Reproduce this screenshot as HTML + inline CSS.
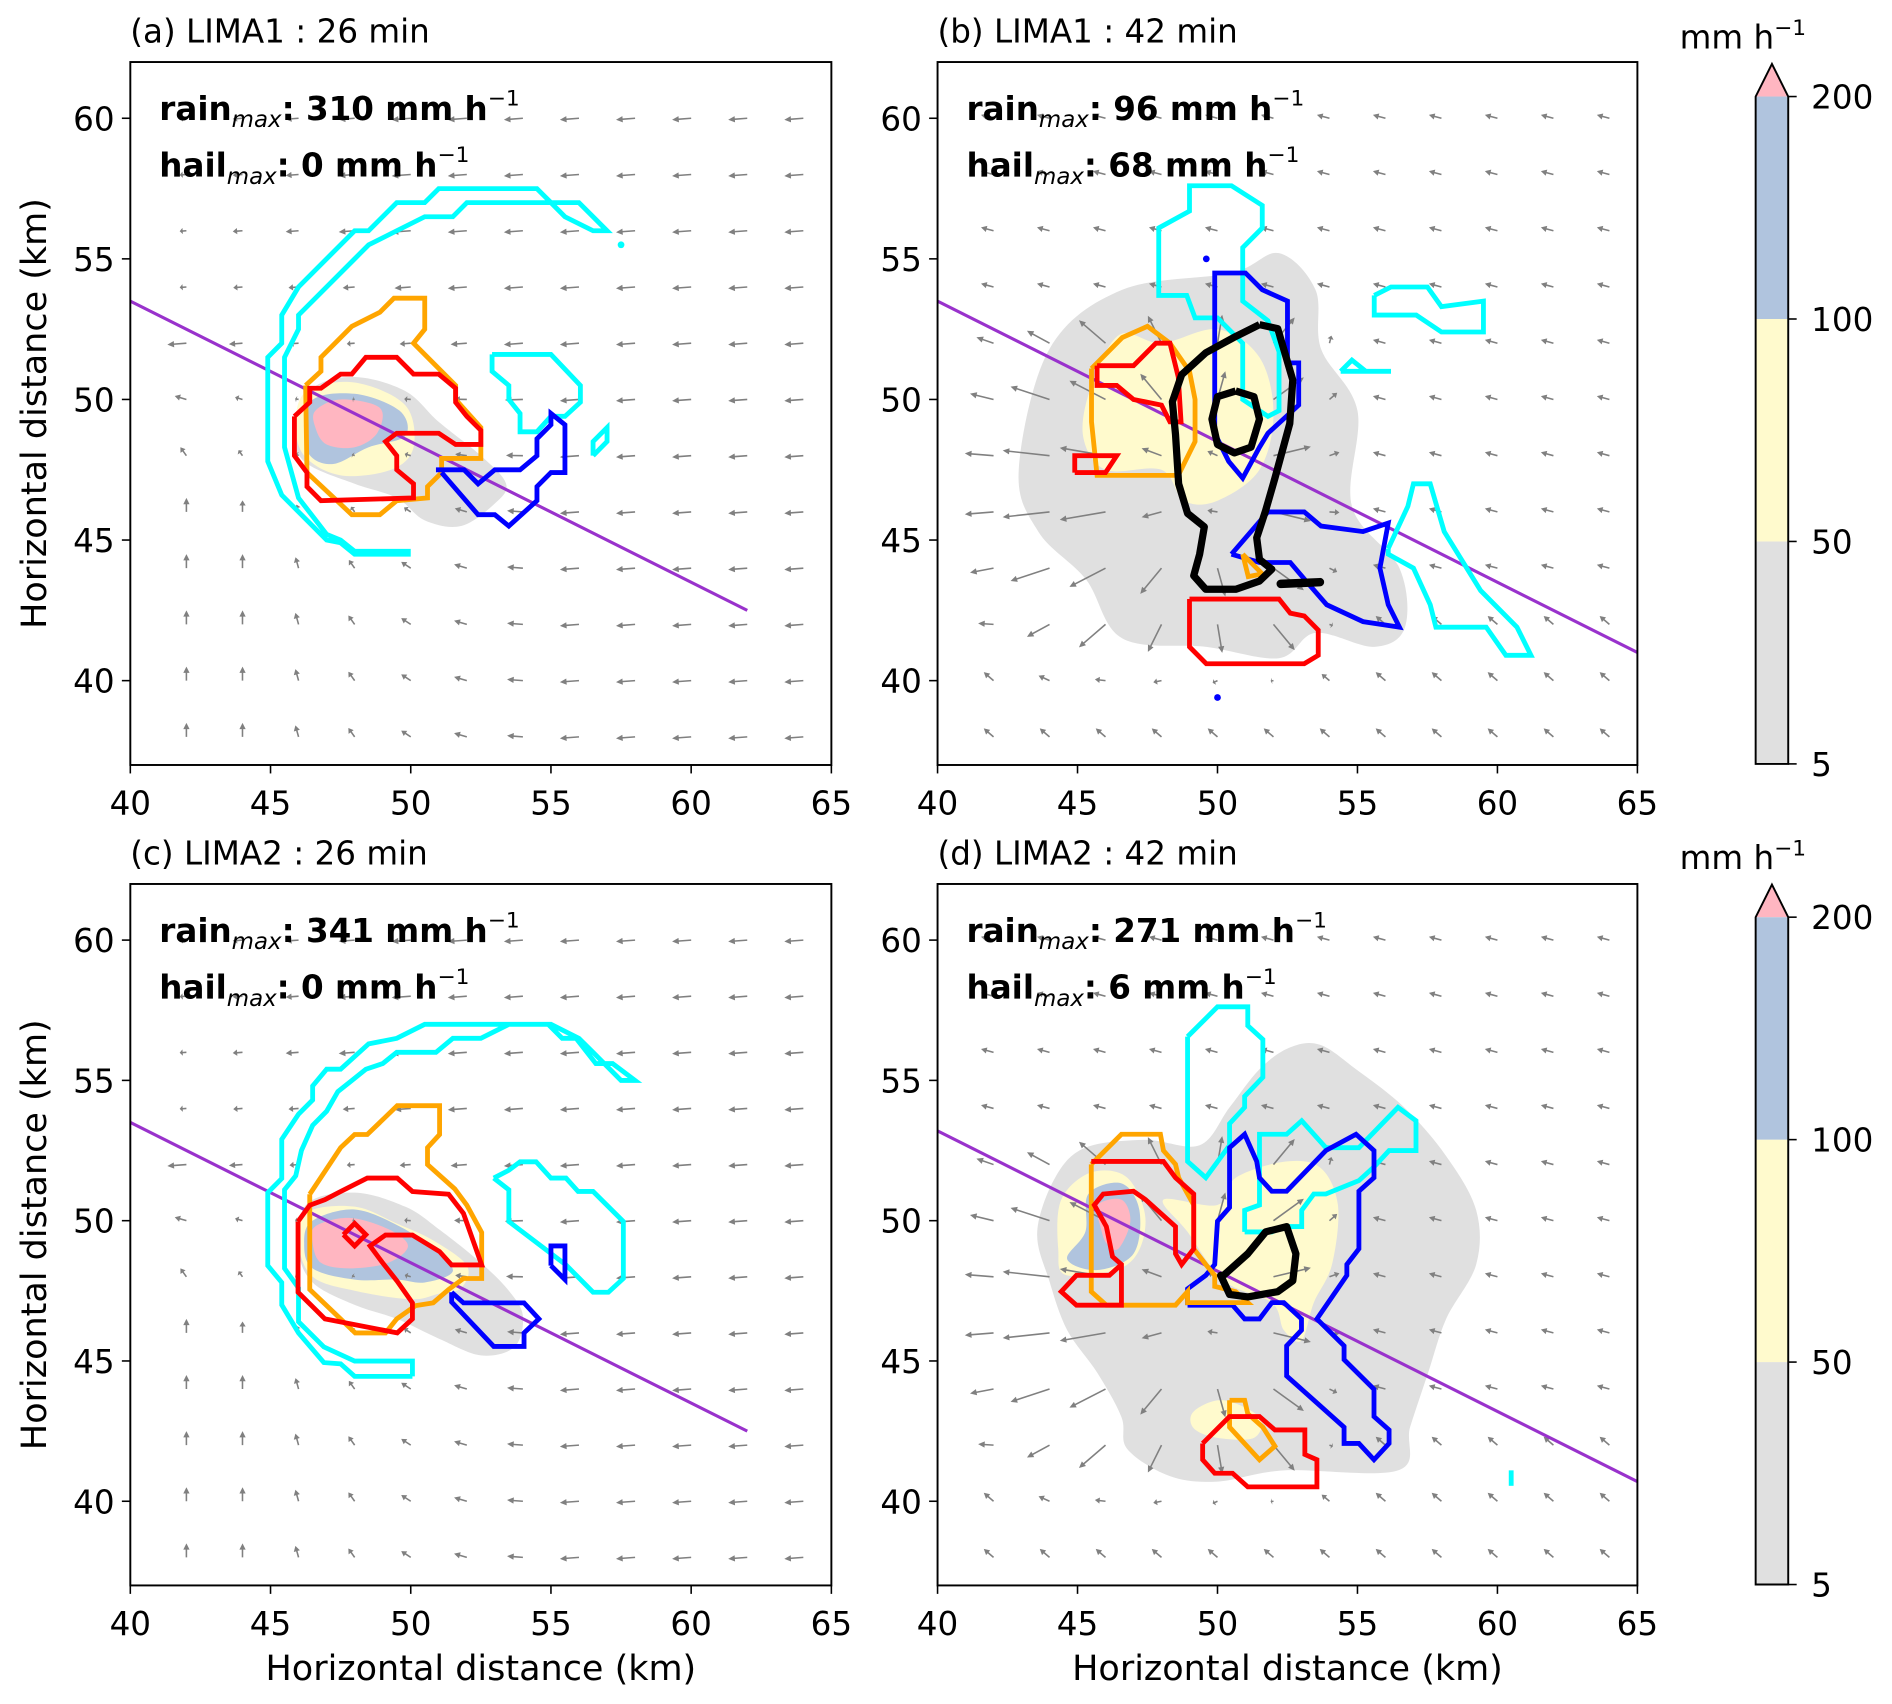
<!DOCTYPE html>
<html><head><meta charset="utf-8"><style>
html,body{margin:0;padding:0;background:#fff;}
svg{display:block;}
text{font-family:"DejaVu Sans","Liberation Sans",sans-serif;fill:#000;}
</style></head><body>
<svg id="fig" xmlns="http://www.w3.org/2000/svg" width="1892" height="1704" viewBox="0 0 1568 1412" preserveAspectRatio="none"></svg>
<script>
// ---- data (km coordinates) ----
const xTicks=[40,45,50,55,60,65];
const yTicks=[40,45,50,55,60];
const cbLevels=[5,50,100,200];
const cbTickLabels=["5","50","100","200"];
const cbColors=["#e0e0e0","#fffacd","#b0c4de","#ffb6c1"];
const panelTitles=["(a) LIMA1 : 26 min","(b) LIMA1 : 42 min","(c) LIMA2 : 26 min","(d) LIMA2 : 42 min"];
const rainMax=[310,96,341,271];
const hailMax=[0,68,0,6];
const gridX=[42,44,46,48,50,52,54,56,58,60,62,64];
const gridY=[38,40,42,44,46,48,50,52,54,56,58,60];
const lineA=[[40,53.5],[62,42.5]];
const lineB=[[40,53.5],[65,41]];
const lineC=[[40,53.5],[62,42.5]];
const lineD=[[40,53.2],[65,40.7]];
// panel a
const aGray=[[46.5,50.4],[48,50.8],[49.8,50.3],[51,49.2],[52.5,48],[53.4,47],[53,46.3],[51.8,45.5],[50.5,45.7],[49.5,46.5],[48,47],[46.2,47.8],[45.8,49]];
const aYellow=[[46.3,50.3],[48,50.6],[49.8,49.8],[50.1,48.3],[49.3,47.5],[47.5,47.3],[46.2,48],[45.9,49.2]];
const aBlue=[[46.4,49.9],[48,50.2],[49.6,49.6],[49.8,48.7],[48.5,48.3],[47.2,47.7],[46.3,48.2]];
const aPink=[[46.6,49.6],[47.5,50],[48.9,49.7],[48.8,48.8],[48,48.3],[47,48.4],[46.6,49]];
const aCyan1=[[50,44.5],[48,44.5],[47.5,44.9],[47,45],[45.4,46.6],[44.9,47.8],[44.9,51.5],[45.4,52],[45.4,53],[46,54],[48,56],[48.5,56],[49.5,57],[50.5,57],[51,57.5],[54.5,57.5],[55,57],[56,57],[56.5,56.5],[57,56],[56.5,56],[55.5,56.5],[55,57],[52,57],[51.5,56.5],[50.5,56.5],[49.5,56],[48.5,55.5],[48,55],[46,53],[46,52.5],[45.5,51.5],[45.5,48.3],[46,46.5],[47,45.2],[47.5,45],[48,44.6],[50,44.6]];
const aCyan2=[[52.9,51.6],[55,51.6],[56.05,50.5],[56.05,49.9],[55.5,49.4],[55,49.4],[54.5,48.85],[53.9,48.85],[53.9,49.5],[53.5,50],[53.5,50.5],[52.9,51],[52.9,51.6]];
const aCyan3=[[56.5,48],[56.5,48.5],[57,49],[57,48.5],[56.5,48]];
const aOrange=[[46.25,50.5],[46.8,51],[46.8,51.5],[47.9,52.6],[48.9,53.1],[49.4,53.6],[50.5,53.6],[50.5,52.5],[50.1,52],[51.6,50.5],[51.6,50],[52.5,49],[52.5,47.9],[51.1,47.9],[51.1,47.4],[50.6,46.9],[50.6,46.5],[49.5,46.4],[48.9,45.9],[47.9,45.9],[46.3,47.4],[46.25,50.5]];
const aRed=[[45.85,49.4],[46.4,49.9],[46.4,50.4],[46.8,50.4],[47.5,50.9],[47.9,50.9],[48.4,51.5],[49.5,51.5],[50.1,50.9],[51,50.9],[51.6,50.4],[51.6,49.9],[52,49.4],[52.5,48.9],[52.5,48.4],[51.6,48.4],[51,48.8],[49.5,48.8],[49.1,48.5],[49.5,48],[49.5,47.5],[50.1,47],[50.1,46.5],[46.8,46.4],[46.3,46.9],[46.3,47.4],[45.85,48],[45.85,49.4]];
const aBlueC=[[50.9,47.5],[51.9,47.5],[52.4,47],[53,47.5],[53.9,47.5],[54.5,48],[54.5,48.6],[55,49.1],[55,49.5],[55.5,49.1],[55.5,47.4],[55,47.4],[54.5,46.9],[54.5,46.4],[53.5,45.5],[53,45.9],[52.4,45.9],[51.1,47.4]];
const aDots=[[57.5,55.5]];
// panel b
const bGray=[[42.9,47.5],[44,51.8],[46.6,53.9],[50.5,54.5],[52.2,55.2],[53.5,53.9],[53.7,51.8],[55,49.6],[54.8,46.2],[56.5,44],[56.7,41.9],[55.6,41.2],[53.5,41.7],[52.2,40.8],[49.6,41.2],[46.6,41.5],[45.3,43.6],[43.6,45.3]];
const bYellow=[[45.5,50.5],[46.5,52.3],[48,52],[50,52.5],[51.5,51.5],[52,49.5],[51.5,47.5],[50,46.4],[48.8,46.4],[48,47.5],[46,47.5],[45.2,48.7]];
const bBlack=[[51.5,52.66],[52.15,52.52],[52.69,50.69],[52.58,49.14],[52.05,47.2],[51.72,46.05],[51.4,45.08],[51.5,44.31],[51.94,43.96],[51.5,43.54],[50.65,43.25],[49.58,43.25],[49.15,43.73],[49.36,44.5],[49.53,45.47],[48.93,45.95],[48.61,47],[48.5,48.76],[48.39,49.92],[48.72,50.88],[49.58,51.66],[50.65,52.24],[51.5,52.66]];
const bBlackInner=[[50.65,50.3],[51.3,50.1],[51.5,49.3],[51.2,48.3],[50.6,48.1],[50,48.4],[49.8,49.3],[50,50.1],[50.65,50.3]];
const bBlackTail=[[52.26,43.44],[53.66,43.5]];
const bBlue1=[[49.9,48.8],[49.9,54.5],[51,54.5],[51.6,53.9],[52.5,53.5],[52.5,51.3],[52.9,51.3],[52.9,49.8],[51.8,48.8],[51.5,48.3],[50.9,47.2],[50.4,47.8],[49.9,48.8]];
const bBlue2=[[50.5,44.5],[51.8,46],[53.1,46],[53.7,45.5],[55.2,45.3],[56.1,45.6],[55.8,44],[56.1,42.7],[56.5,41.9],[55.2,42.1],[53.9,42.7],[53.2,43.5],[52.6,44.2],[51.5,44.2],[50.5,44.5]];
const bCyan1=[[47.9,54.8],[47.9,56.1],[49,56.7],[49,57.6],[50.5,57.6],[51.6,56.9],[51.6,56.1],[50.9,55.4],[50.9,53.5],[51.8,52.8],[52.2,51.7],[52.2,49.6],[51.8,49.4],[50.9,50],[50.9,52],[50,52.9],[49.2,52.9],[48.9,53.7],[47.9,53.7],[47.9,54.8]];
const bCyan2=[[55.6,53.7],[56.2,54],[57.5,54],[58,53.3],[59.5,53.5],[59.5,52.4],[58,52.4],[57.1,53],[55.6,53],[55.6,53.7]];
const bCyan3=[[54.4,51],[54.8,51.4],[55.3,51],[56.2,51],[54.4,51]];
const bCyan4=[[56.1,44.7],[56.8,46.2],[57,47],[57.6,47],[58.1,45.3],[59.4,43.2],[60.7,41.9],[61.2,40.9],[60.3,40.9],[59.6,41.9],[57.8,41.9],[57.6,42.7],[57,44],[56.1,44.5],[56.1,44.7]];
const bOrange1=[[45.5,51.1],[46.6,52.2],[47.5,52.6],[48.3,52],[49,51],[49.2,50],[49.2,48.5],[48.6,47.3],[47.3,47.3],[45.7,47.3],[45.5,49.2],[45.5,51.1]];
const bOrange2=[[50.9,44.5],[51.6,43.8],[51.1,43.7],[50.9,44.5]];
const bRed1=[[45.7,51.2],[47,51.2],[47.8,52],[48.3,52],[48.6,50.8],[48.7,49.2],[48.3,49.2],[48,49.8],[47,50],[46.4,50.5],[45.7,50.5],[45.7,51.2]];
const bRed2=[[44.9,47.4],[44.9,48],[46.4,48],[46,47.4],[44.9,47.4]];
const bRed3=[[49,42.9],[52.2,42.9],[52.6,42.4],[53.1,42.3],[53.6,41.8],[53.6,40.9],[53.1,40.6],[49.6,40.6],[49,41.2],[49,42.9]];
const bDots=[[49.6,55],[50,39.4]];
// panel c
const cGray=[[46.3,50.6],[48,51],[49.8,50.5],[51,49.7],[52.5,48.5],[53.5,47.5],[54,46.6],[53.7,45.5],[52.5,45.2],[51,45.8],[49.5,46.5],[48,47],[46.5,47.8],[46,49]];
const cYellow=[[46.3,50.3],[48,50.5],[49.5,49.9],[50.8,49.3],[52,48.4],[51.8,47.6],[51,47.4],[50,47.2],[48,47.5],[46.5,48],[46,49.2]];
const cBlue=[[46.5,50],[48,50.4],[49.6,49.8],[50.8,49],[51.5,48.2],[50.5,47.8],[49.5,47.9],[48,47.9],[46.5,48.3],[46.2,49.2]];
const cPink=[[46.6,49.8],[47.8,50.1],[49.2,49.7],[49.9,49.1],[49.2,48.5],[47.8,48.3],[46.8,48.5],[46.5,49.2]];
const cCyan1=[[50.06,44.45],[48,44.45],[47.5,44.9],[46.9,44.94],[46,46],[45.4,47],[45.4,47.8],[44.9,48.4],[44.9,51],[45.4,51.5],[45.4,52.9],[46,53.8],[46.5,54.3],[46.5,54.8],[47,55.4],[47.5,55.4],[48.5,56.3],[49.5,56.5],[50.5,57],[54.9,57],[55.4,56.5],[55.9,56.5],[56.6,55.6],[57.2,55.6],[58,55],[57.5,55],[56.5,56],[56,56.5],[55,57],[53.5,57],[52.5,56.5],[51.5,56.5],[50.9,56],[49.5,56],[49,55.6],[48.4,55.4],[47.9,55],[47.4,54.6],[47,53.9],[46.5,53.4],[46.1,52.5],[45.9,51.6],[45.5,51.1],[45.5,48.3],[46,47.6],[46,46.4],[46.9,45.5],[48,45],[50.06,45],[50.06,44.45]];
const cCyan2=[[52.96,51.52],[53.5,51.8],[53.9,52.1],[54.47,52.1],[55,51.52],[55.54,51.52],[55.97,51.04],[56.5,51.04],[57.58,49.97],[57.58,47.94],[57.05,47.45],[56.5,47.45],[55.54,48.42],[53.5,49.97],[53.5,51.1],[52.96,51.52]];
const cBlueSmall=[[55,48.4],[55,49.1],[55.5,49.1],[55.5,47.9],[55,48.4]];
const cOrange=[[46.4,50.94],[47.5,52.6],[48,53.07],[48.45,53.07],[49.52,54.1],[51.03,54.1],[51.03,53.07],[50.6,52.6],[50.6,52],[51.57,51.13],[52,50.55],[52.53,49.58],[52.53,47.94],[51.88,47.94],[51.35,47.55],[50.8,47.07],[50.17,46.97],[49.5,46.5],[49.1,46],[48.02,46],[46.4,47.55],[46.4,50.94]];
const cRed=[[45.98,49.97],[46.4,50.55],[46.94,50.75],[47.5,51.04],[48.45,51.52],[49.52,51.52],[50.06,51.04],[51.35,50.94],[51.88,50.26],[52.53,48.42],[51.46,48.42],[51.03,48.9],[50.06,49.49],[49.1,49.49],[48.55,49.1],[48.98,48.52],[49.52,47.84],[50.06,47.07],[50.06,46.5],[49.52,46],[46.94,46.5],[45.98,47.45],[45.98,49.97]];
const cRedSmall=[[47.6,49.5],[48,49.9],[48.4,49.5],[48,49.1],[47.6,49.5]];
const cBlueC=[[51.46,47.45],[51.88,47.07],[54.04,47.07],[54.57,46.5],[54.04,46],[54.04,45.52],[52.96,45.52],[51.46,47.1],[51.46,47.45]];
// panel d
const dGray=[[43.56,49.6],[44.2,51.53],[45.28,52.6],[47.43,52.88],[49.36,52.69],[50.43,54.04],[51.5,55.4],[52.58,56.17],[53.66,56.27],[54.95,55.4],[56.67,54.04],[58.17,52.3],[59.24,50.37],[59.24,48.44],[58.17,46.5],[57.52,44.57],[56.88,42.64],[56.45,41.1],[52.37,41.1],[50,40.7],[48.29,40.9],[46.78,41.86],[46.57,43],[45.71,44.57],[44.63,46.1],[43.99,47.86]];
const dYellow1=[[50,50.56],[50.65,51.53],[52.37,52.1],[53.66,51.9],[54.3,50.56],[54.09,48.44],[53.44,47.08],[53,45.73],[52.37,46.1],[51.94,47.08],[50.22,47.86],[48.93,49.6],[48.07,50.75]];
const dYellow2=[[44.42,50.75],[45.49,51.72],[46.78,51.53],[47.43,49.98],[46.78,48.44],[44.63,48.05],[44.31,49]];
const dYellow3=[[49.15,43.2],[50.2,43.6],[51.5,43],[51.3,42.26],[50,42.26],[49.15,42.6]];
const dBlue=[[45.39,50.95],[46.57,51.33],[47.21,50.37],[47,48.82],[45.71,48.24],[44.63,48.63],[45.28,49.6]];
const dPink=[[45.71,50.56],[46.57,50.75],[46.89,49.98],[46.46,49],[46.03,49.2],[45.82,49.79]];
const dBlack=[[50.22,48.05],[51.08,48.82],[51.72,49.6],[52.47,49.79],[52.8,48.82],[52.69,47.86],[52.15,47.47],[51.08,47.28],[50.43,47.37],[50.11,48.05],[50.22,48.05]];
const dBlueC=[[48.93,46.99],[48.93,47.57],[49.58,48.05],[49.9,48.44],[50,49.98],[50.43,50.47],[50.43,52.6],[50.97,53.08],[51.4,52.11],[51.5,51.53],[51.94,51.05],[52.47,51.05],[53.87,52.5],[54.95,53.08],[55.59,52.5],[55.59,51.53],[55.05,51.05],[55.05,49],[54.62,48.44],[54.62,48.05],[54.09,47.28],[53.55,46.5],[54.52,45.54],[54.52,45.05],[55.59,43.99],[55.59,43.02],[56.13,42.54],[56.13,42.06],[55.59,41.48],[55.05,42.06],[54.52,42.06],[54.52,42.64],[52.47,44.47],[52.47,45.54],[53,46.1],[53,46.5],[52.37,47.08],[51.94,47.08],[51.5,46.5],[50.97,46.5],[50.54,46.99],[48.93,46.99]];
const dCyan1=[[48.93,56.56],[50,57.62],[51.08,57.62],[51.08,56.95],[51.62,56.46],[51.62,55.11],[50.97,54.43],[50.97,54.04],[50.43,53.46],[50.43,52.69],[49.58,51.53],[48.93,52.11],[48.93,56.56]];
const dCyan2=[[50.97,49.6],[50.97,50.37],[51.5,50.56],[51.5,53.08],[52.47,53.08],[53.01,53.56],[53.87,52.6],[55.05,52.6],[56.45,54.04],[57.09,53.56],[57.09,52.5],[56.13,52.5],[55.59,51.92],[55.05,51.43],[53.87,50.95],[53.44,50.95],[53.01,50.37],[53.01,49.79],[52.37,49.79],[51.94,49.6],[50.97,49.6]];
const dCyan3=[[60.49,41.1],[60.49,40.55]];
const dOrange1=[[45.49,52.01],[46.57,53.08],[47.96,53.08],[48.07,52.5],[48.5,52.01],[48.61,51.53],[49.15,50.56],[49.15,49],[49.58,48.44],[49.9,48.05],[49.9,47.66],[50.65,47.47],[51.08,47.08],[48.93,47.08],[48.93,47.47],[48.5,46.99],[46.03,46.99],[45.49,47.47],[45.49,52.01]];
const dOrange2=[[50.43,43.6],[50.97,43.6],[51.08,43.12],[51.62,42.64],[52.05,41.96],[51.5,41.48],[50.43,42.64],[50.43,43.6]];
const dRed1=[[45.49,52.11],[48.07,52.11],[48.5,51.53],[49.15,50.95],[49.15,49],[48.72,48.44],[48.5,48.82],[48.5,49.79],[47.43,50.75],[47,51.05],[45.92,50.95],[45.6,50.56],[46.03,49.79],[46.25,48.72],[46.57,48.44],[46.57,46.99],[44.96,46.99],[44.42,47.47],[44.96,48.05],[46.14,48.05],[46.57,48.44]];
const dRed2=[[49.47,42.06],[50.43,43.02],[51.5,43.02],[52.05,42.54],[53.12,42.54],[53.12,41.67],[53.55,41.48],[53.55,40.51],[51.08,40.51],[50.54,41],[49.9,41],[49.47,41.48],[49.47,42.06]];
// wind parameters (km per arrow unit)
const windBgAC=[-0.68,-0.05];
const windInflowAC=[0,0.5];
const windCenterAC=[47.5,49.5];
const windBgBD=[-0.45,0.12];
const windLowBD=[-0.35,0.3];
const windCenterBD=[49.5,47];
const windOutflowBD=[1.7];

// ---- rendering ----
const NS="http://www.w3.org/2000/svg";
const svg=document.getElementById('fig');
function el(tag,attrs,parent){const e=document.createElementNS(NS,tag);for(const k in attrs)e.setAttribute(k,attrs[k]);(parent||svg).appendChild(e);return e;}
const clamp=v=>Math.max(0,Math.min(1,v));
const panels=[
 {x0:108,x1:689,yA:98,yB:564},
 {x0:777,x1:1357,yA:98,yB:564},
 {x0:108,x1:689,yA:779,yB:1244},
 {x0:777,x1:1357,yA:779,yB:1244}];
panels.forEach(p=>{p.kx=(p.x1-p.x0)/25;p.ky=(p.yB-p.yA)/20;p.top=p.yA-2*p.ky;p.bot=p.yB+3*p.ky;
 p.sx=x=>p.x0+(x-40)*p.kx;p.sy=y=>p.yA+(60-y)*p.ky;});
function pts(p,arr){return arr.map(q=>p.sx(q[0]).toFixed(1)+','+p.sy(q[1]).toFixed(1)).join(' ');}
function smooth(p,arr){const P=arr.map(q=>[p.sx(q[0]),p.sy(q[1])]);const n=P.length;let d='M'+P[0][0]+','+P[0][1];
 for(let i=0;i<n;i++){const p0=P[(i-1+n)%n],p1=P[i],p2=P[(i+1)%n],p3=P[(i+2)%n];
 d+=' C'+(p1[0]+(p2[0]-p0[0])/6).toFixed(1)+','+(p1[1]+(p2[1]-p0[1])/6).toFixed(1)+' '+(p2[0]-(p3[0]-p1[0])/6).toFixed(1)+','+(p2[1]-(p3[1]-p1[1])/6).toFixed(1)+' '+p2[0].toFixed(1)+','+p2[1].toFixed(1);}
 return d+'Z';}
function windAC(x,y){const w=clamp((56-x)/12)*clamp((52-y)/6);let u=windBgAC[0]*(1-w)+windInflowAC[0]*w,v=windBgAC[1]*(1-w)+windInflowAC[1]*w;
 const d=Math.hypot(x-windCenterAC[0],y-windCenterAC[1]);let dm=0.15+0.85*clamp((d-1)/5);
 if(y>52&&x<50)dm*=0.35+0.65*clamp((x-42)/8);
 return [u*dm,v*dm];}
function windBD(x,y){let u=windBgBD[0],v=windBgBD[1];if(y<=42){u=windLowBD[0];v=windLowBD[1];}
 const dx=x-windCenterBD[0],dy=y-windCenterBD[1];const r=Math.hypot(dx,dy);
 const s=windOutflowBD[0]*clamp((10-r)/4)*clamp((55-x)/3)*clamp((r-1)/2)*clamp((y-39)/3)*clamp((54-y)/2);
 if(r>0.1&&s>0){u=u*(1-clamp(s))+dx/r*s;v=v*(1-clamp(s))+dy/r*s*0.6;}
 return [u,v];}

const shading=[[aGray,aYellow,aBlue,aPink],[bGray,bYellow],[cGray,cYellow,cBlue,cPink],[dGray,dYellow1,dYellow2,dYellow3,dBlue,dPink]];
const shadeCol=[[0,1,2,3],[0,1],[0,1,2,3],[0,1,1,1,2,3]];
const contours=[
 [[aCyan1,'#00ffff'],[aCyan2,'#00ffff'],[aCyan3,'#00ffff'],[aOrange,'#ffa500'],[aRed,'#ff0000'],[aBlueC,'#0000ff']],
 [[bCyan1,'#00ffff'],[bCyan2,'#00ffff'],[bCyan3,'#00ffff'],[bCyan4,'#00ffff'],[bBlue1,'#0000ff'],[bBlue2,'#0000ff'],[bOrange1,'#ffa500'],[bOrange2,'#ffa500'],[bRed1,'#ff0000'],[bRed2,'#ff0000'],[bRed3,'#ff0000']],
 [[cCyan1,'#00ffff'],[cCyan2,'#00ffff'],[cBlueSmall,'#0000ff'],[cOrange,'#ffa500'],[cRed,'#ff0000'],[cRedSmall,'#ff0000'],[cBlueC,'#0000ff']],
 [[dCyan1,'#00ffff'],[dCyan2,'#00ffff'],[dCyan3,'#00ffff'],[dBlueC,'#0000ff'],[dOrange1,'#ffa500'],[dOrange2,'#ffa500'],[dRed1,'#ff0000'],[dRed2,'#ff0000']]];
const blacks=[[],[bBlack,bBlackInner],[],[dBlack]];
const lines=[lineA,lineB,lineC,lineD];
const dots=[[aDots,'#00ffff'],[bDots,'#0000ff'],[[],'#000'],[[],'#000']];
const letters=['a','b','c','d'];

panels.forEach((p,i)=>{
 const g=el('g',{});
 
 
 const cid='clip'+i;const cp=el('clipPath',{id:cid},g);el('rect',{x:p.x0,y:p.top,width:p.x1-p.x0,height:p.bot-p.top},cp);
 const inner=el('g',{'clip-path':'url(#'+cid+')'},g);
 shading[i].forEach((arr,k)=>{const s=el('path',{d:smooth(p,arr),fill:cbColors[shadeCol[i][k]],stroke:'none'},inner);
  });
 gridX.forEach(x=>gridY.forEach(y=>{
  const w=(i%2==0)?windAC(x,y):windBD(x,y);
  const x1=p.sx(x),y1=p.sy(y),x2=x1+w[0]*p.kx,y2=y1-w[1]*p.ky;const L=Math.hypot(x2-x1,y2-y1);if(L<1)return;
  const ux=(x2-x1)/L,uy=(y2-y1)/L;const hl=Math.min(5.5,L*0.45),hw=2.6;
  const a=el('g',{},inner);
  
  
  el('line',{x1:x1,y1:y1,x2:x2-ux*hl*0.8,y2:y2-uy*hl*0.8,stroke:'#808080','stroke-width':1.3},a);
  el('polygon',{points:[x2,y2,x2-ux*hl-uy*hw,y2-uy*hl+ux*hw,x2-ux*hl+uy*hw,y2-uy*hl-ux*hw].map(v=>v.toFixed(1)).join(','),fill:'#808080'},a);
 }));
 const ln=el('polyline',{points:pts(p,lines[i]),stroke:'#9932cc','stroke-width':2.6,fill:'none'},inner);
 
 contours[i].forEach(c=>{const e=el('polyline',{points:pts(p,c[0]),stroke:c[1],'stroke-width':4,fill:'none','stroke-linejoin':'miter'},inner);
  });
 dots[i][0].forEach(d=>{const e=el('circle',{cx:p.sx(d[0]),cy:p.sy(d[1]),r:2.8,fill:dots[i][1]},inner);
  });
 blacks[i].forEach(arr=>{const e=el('polyline',{points:pts(p,arr),stroke:'#000','stroke-width':6,fill:'none','stroke-linejoin':'round'},inner);
  });
 if(i==1){const e=el('polyline',{points:pts(p,bBlackTail),stroke:'#000','stroke-width':7,fill:'none','stroke-linecap':'round'},inner);
  }
 const fr=el('rect',{x:p.x0,y:p.top,width:p.x1-p.x0,height:p.bot-p.top,fill:'none',stroke:'#000','stroke-width':1.6},g);
 
 xTicks.forEach(t=>{const x=p.sx(t);el('line',{x1:x,y1:p.bot,x2:x,y2:p.bot+7,stroke:'#000','stroke-width':1.3},g);
  const tx=el('text',{x:x,y:p.bot+41,'font-size':27,'text-anchor':'middle'},g);tx.textContent=t;
  });
 yTicks.forEach(t=>{const y=p.sy(t);el('line',{x1:p.x0-7,y1:y,x2:p.x0,y2:y,stroke:'#000','stroke-width':1.3},g);
  const tx=el('text',{x:p.x0-13,y:y+10,'font-size':27,'text-anchor':'end'},g);tx.textContent=t;
  });
 const tt=el('text',{x:p.x0,y:p.top-16,'font-size':27},g);tt.textContent=panelTitles[i];
 
 const r=el('text',{x:p.x0+24,y:p.top+48,'font-size':27,'font-weight':'bold'},g);
 
 r.innerHTML='rain<tspan font-size="19" font-style="italic" font-weight="normal" dy="6">max</tspan><tspan dy="-6">: '+rainMax[i]+' mm h</tspan><tspan font-size="18" font-weight="normal" dy="-12">−1</tspan>';
 const h=el('text',{x:p.x0+24,y:p.top+95,'font-size':27,'font-weight':'bold'},g);
 
 h.innerHTML='hail<tspan font-size="19" font-style="italic" font-weight="normal" dy="6">max</tspan><tspan dy="-6">: '+hailMax[i]+' mm h</tspan><tspan font-size="18" font-weight="normal" dy="-12">−1</tspan>';
 if(i%2==0){const yl=el('text',{x:0,y:0,'font-size':29,'text-anchor':'middle',transform:'translate(38,'+((p.top+p.bot)/2)+') rotate(-90)'},g);
  yl.textContent='Horizontal distance (km)';}
 if(i>=2){const xl=el('text',{x:(p.x0+p.x1)/2,y:1392,'font-size':29,'text-anchor':'middle'},g);
  xl.textContent='Horizontal distance (km)';}
});
[[80,633],[760,1313]].forEach((cb,j)=>{
 const g=el('g',{});
 
 
 const X0=1455,X1=1482,top=cb[0],bot=cb[1];
 const pos=v=>{const idx=cbLevels.indexOf(v);return bot-(bot-top)*idx/3;};
 for(let k=0;k<3;k++){const yA=pos(cbLevels[k+1]),yB=pos(cbLevels[k]);el('rect',{x:X0,y:yA,width:X1-X0,height:yB-yA,fill:cbColors[k]},g);}
 el('polygon',{points:X0+','+top+' '+X1+','+top+' '+((X0+X1)/2)+','+(top-27),fill:cbColors[3]},g);
 el('polygon',{points:X0+','+bot+' '+X0+','+top+' '+((X0+X1)/2)+','+(top-27)+' '+X1+','+top+' '+X1+','+bot,fill:'none',stroke:'#000','stroke-width':1.6},g);
 cbLevels.forEach((v,k)=>{const y=pos(v);el('line',{x1:X1,y1:y,x2:X1+7,y2:y,stroke:'#000','stroke-width':1.3},g);
  const t=el('text',{x:X1+19,y:y+10,'font-size':27},g);t.textContent=cbTickLabels[k];
  });
 const u=el('text',{x:1392,y:top-40,'font-size':27},g);
 
 u.innerHTML='mm h<tspan font-size="18" dy="-11">−1</tspan>';
});
</script>
</body></html>
